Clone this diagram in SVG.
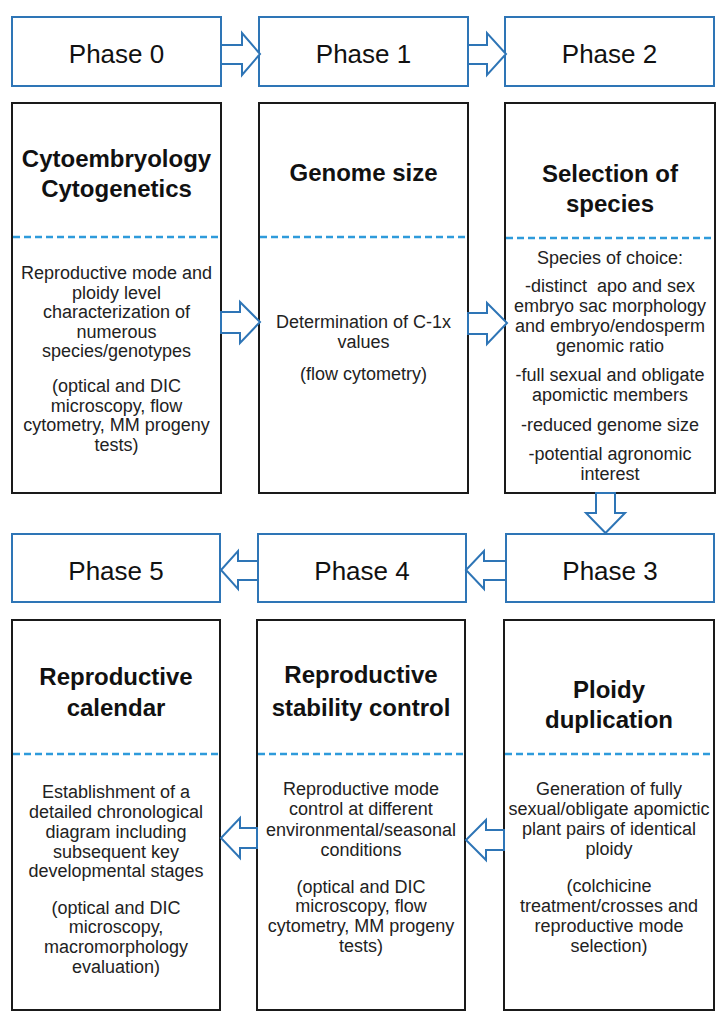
<svg xmlns="http://www.w3.org/2000/svg" width="722" height="1022" viewBox="0 0 722 1022">
<style>
.phase{fill:#fff;stroke:#2E75B6;stroke-width:2}
.box{fill:#fff;stroke:#1a1a1a;stroke-width:2}
.dash{stroke:#2E9BDB;stroke-width:2.5;stroke-dasharray:7 4;fill:none}
.arr{fill:#fff;stroke:#2E75B6;stroke-width:2;stroke-linejoin:miter}
.pt{font-family:"Liberation Sans",Arial,sans-serif;font-size:26px;fill:#111;text-anchor:middle}
.tt{font-family:"Liberation Sans",Arial,sans-serif;font-size:24px;font-weight:bold;fill:#111;text-anchor:middle}
.bt{font-family:"Liberation Sans",Arial,sans-serif;font-size:18px;fill:#222;text-anchor:middle;white-space:pre}
</style>
<rect width="722" height="1022" fill="#fff"/>

<g id="phase0"><rect class="phase" x="12" y="17" width="209" height="69"/><text class="pt" x="116.5" y="63">Phase 0</text></g>
<g id="phase1"><rect class="phase" x="259" y="17" width="209" height="69"/><text class="pt" x="363.5" y="63">Phase 1</text></g>
<g id="phase2"><rect class="phase" x="505" y="17" width="209" height="69"/><text class="pt" x="609.5" y="63">Phase 2</text></g>
<g id="phase5"><rect class="phase" x="12" y="534" width="208" height="68"/><text class="pt" x="116" y="580">Phase 5</text></g>
<g id="phase4"><rect class="phase" x="258" y="534" width="208" height="68"/><text class="pt" x="362" y="580">Phase 4</text></g>
<g id="phase3"><rect class="phase" x="506" y="534" width="208" height="68"/><text class="pt" x="610" y="580">Phase 3</text></g>

<g id="box0">
<rect class="box" x="12" y="103" width="209" height="390"/>
<line class="dash" x1="13" y1="237" x2="220" y2="237"/>
<text class="tt" x="116.5" y="167">Cytoembryology</text>
<text class="tt" x="116.5" y="197">Cytogenetics</text>
<text class="bt" x="116.5" y="279">Reproductive mode and</text>
<text class="bt" x="116.5" y="298.5">ploidy level</text>
<text class="bt" x="116.5" y="318">characterization of</text>
<text class="bt" x="116.5" y="337.5">numerous</text>
<text class="bt" x="116.5" y="357">species/genotypes</text>
<text class="bt" x="116.5" y="392">(optical and DIC</text>
<text class="bt" x="116.5" y="411.5">microscopy, flow</text>
<text class="bt" x="116.5" y="431">cytometry, MM progeny</text>
<text class="bt" x="116.5" y="450.5">tests)</text>
</g>

<g id="box1">
<rect class="box" x="259" y="103" width="209" height="390"/>
<line class="dash" x1="260" y1="237" x2="467" y2="237"/>
<text class="tt" x="363.5" y="181">Genome size</text>
<text class="bt" x="363.5" y="328">Determination of C-1x</text>
<text class="bt" x="363.5" y="348">values</text>
<text class="bt" x="363.5" y="380">(flow cytometry)</text>
</g>

<g id="box2">
<rect class="box" x="505" y="103" width="210" height="390"/>
<line class="dash" x1="506" y1="238" x2="714" y2="238"/>
<text class="tt" x="610" y="182">Selection of</text>
<text class="tt" x="610" y="212">species</text>
<text class="bt" x="610" y="264">Species of choice:</text>
<text class="bt" x="610" y="292">-distinct  apo and sex</text>
<text class="bt" x="610" y="312">embryo sac morphology</text>
<text class="bt" x="610" y="332">and embryo/endosperm</text>
<text class="bt" x="610" y="352">genomic ratio</text>
<text class="bt" x="610" y="381">-full sexual and obligate</text>
<text class="bt" x="610" y="401">apomictic members</text>
<text class="bt" x="610" y="431">-reduced genome size</text>
<text class="bt" x="610" y="460">-potential agronomic</text>
<text class="bt" x="610" y="480">interest</text>
</g>

<g id="box5">
<rect class="box" x="12" y="620" width="208" height="390"/>
<line class="dash" x1="13" y1="754" x2="219" y2="754"/>
<text class="tt" x="116" y="685">Reproductive</text>
<text class="tt" x="116" y="716">calendar</text>
<text class="bt" x="116" y="798">Establishment of a</text>
<text class="bt" x="116" y="818">detailed chronological</text>
<text class="bt" x="116" y="838">diagram including</text>
<text class="bt" x="116" y="858">subsequent key</text>
<text class="bt" x="116" y="877">developmental stages</text>
<text class="bt" x="116" y="914">(optical and DIC</text>
<text class="bt" x="116" y="933">microscopy,</text>
<text class="bt" x="116" y="953">macromorphology</text>
<text class="bt" x="116" y="973">evaluation)</text>
</g>

<g id="box4">
<rect class="box" x="257" y="620" width="208" height="390"/>
<line class="dash" x1="258" y1="754" x2="464" y2="754"/>
<text class="tt" x="361" y="683">Reproductive</text>
<text class="tt" x="361" y="716">stability control</text>
<text class="bt" x="361" y="795">Reproductive mode</text>
<text class="bt" x="361" y="815">control at different</text>
<text class="bt" x="361" y="836">environmental/seasonal</text>
<text class="bt" x="361" y="856">conditions</text>
<text class="bt" x="361" y="893">(optical and DIC</text>
<text class="bt" x="361" y="912">microscopy, flow</text>
<text class="bt" x="361" y="932">cytometry, MM progeny</text>
<text class="bt" x="361" y="952">tests)</text>
</g>

<g id="box3">
<rect class="box" x="504" y="620" width="210" height="390"/>
<line class="dash" x1="505" y1="754" x2="713" y2="754"/>
<text class="tt" x="609" y="698">Ploidy</text>
<text class="tt" x="609" y="728">duplication</text>
<text class="bt" x="609" y="795">Generation of fully</text>
<text class="bt" x="609" y="815">sexual/obligate apomictic</text>
<text class="bt" x="609" y="835">plant pairs of identical</text>
<text class="bt" x="609" y="855">ploidy</text>
<text class="bt" x="609" y="892">(colchicine</text>
<text class="bt" x="609" y="912">treatment/crosses and</text>
<text class="bt" x="609" y="932">reproductive mode</text>
<text class="bt" x="609" y="952">selection)</text>
</g>

<g id="connectors">
<path class="arr" d="M221,45 H242 V33 L260,54 L242,75 V64 H221 Z"/>
<path class="arr" d="M468,45 H487 V33 L506,54 L487,75 V64 H468 Z"/>
<path class="arr" d="M221,312 H240 V302 L260,322 L240,343 V333 H221 Z"/>
<path class="arr" d="M468,313 H487 V303 L507,323 L487,344 V334 H468 Z"/>
<path class="arr" d="M596,493 V513 H586 L605.5,533 L625,513 H615 V493 Z"/>
<path class="arr" d="M506,561 H484 V551 L466,570 L484,589 V580 H506 Z"/>
<path class="arr" d="M258,561 H238 V551 L221,570 L238,589 V580 H258 Z"/>
<path class="arr" d="M504,830 H486 V820 L466,840 L486,860 V850 H504 Z"/>
<path class="arr" d="M257,828 H240 V818 L221,838 L240,858 V848 H257 Z"/>
</g>
</svg>
